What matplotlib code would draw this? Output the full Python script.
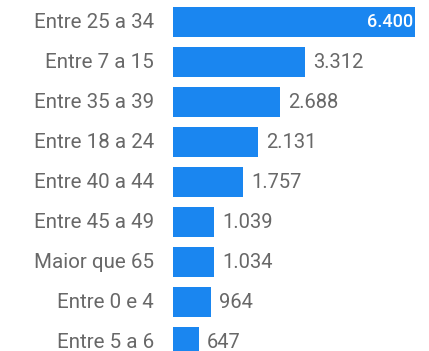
import matplotlib
matplotlib.use("Agg")
import matplotlib.pyplot as plt

# Faixas etárias e quantidade de casos
faixas = ["Entre 25 a 34", "Entre 7 a 15", "Entre 35 a 39", "Entre 18 a 24",
          "Entre 40 a 44", "Entre 45 a 49", "Maior que 65", "Entre 0 e 4",
          "Entre 5 a 6"]
valores = [6400, 3312, 2688, 2131, 1757, 1039, 1034, 964, 647]
rotulos = ["6.400", "3.312", "2.688", "2.131", "1.757", "1.039", "1.034", "964", "647"]

fonte = ["Roboto", "DejaVu Sans"]
azul = "#1a86f0"
cinza = "#686868"

fig = plt.figure(figsize=(4.29, 3.51), dpi=100)
ax = fig.add_axes([173 / 429, 0, (415 - 173) / 429, 1])

pos = list(range(len(faixas)))
ax.barh(pos, valores, height=0.74, color=azul)

escala = 0.0398  # pixels por unidade
ax.set_xlim(0, (415 - 173) / escala)
ax.set_ylim(8.225, -0.55)

for i, (v, r) in enumerate(zip(valores, rotulos)):
    if i == 0:
        ax.text(ax.get_xlim()[1] - 50, i, r, ha="right", va="center",
                color="white", fontsize=13, family=fonte, fontweight="medium")
    else:
        ax.text(v + 200, i, r, ha="left", va="center", color=cinza,
                fontsize=14.5, family=fonte)
    ax.text(-480, i, faixas[i], ha="right", va="center", color=cinza,
            fontsize=14.8, family=fonte)

ax.axis("off")
fig.savefig("out.png", dpi=100)
